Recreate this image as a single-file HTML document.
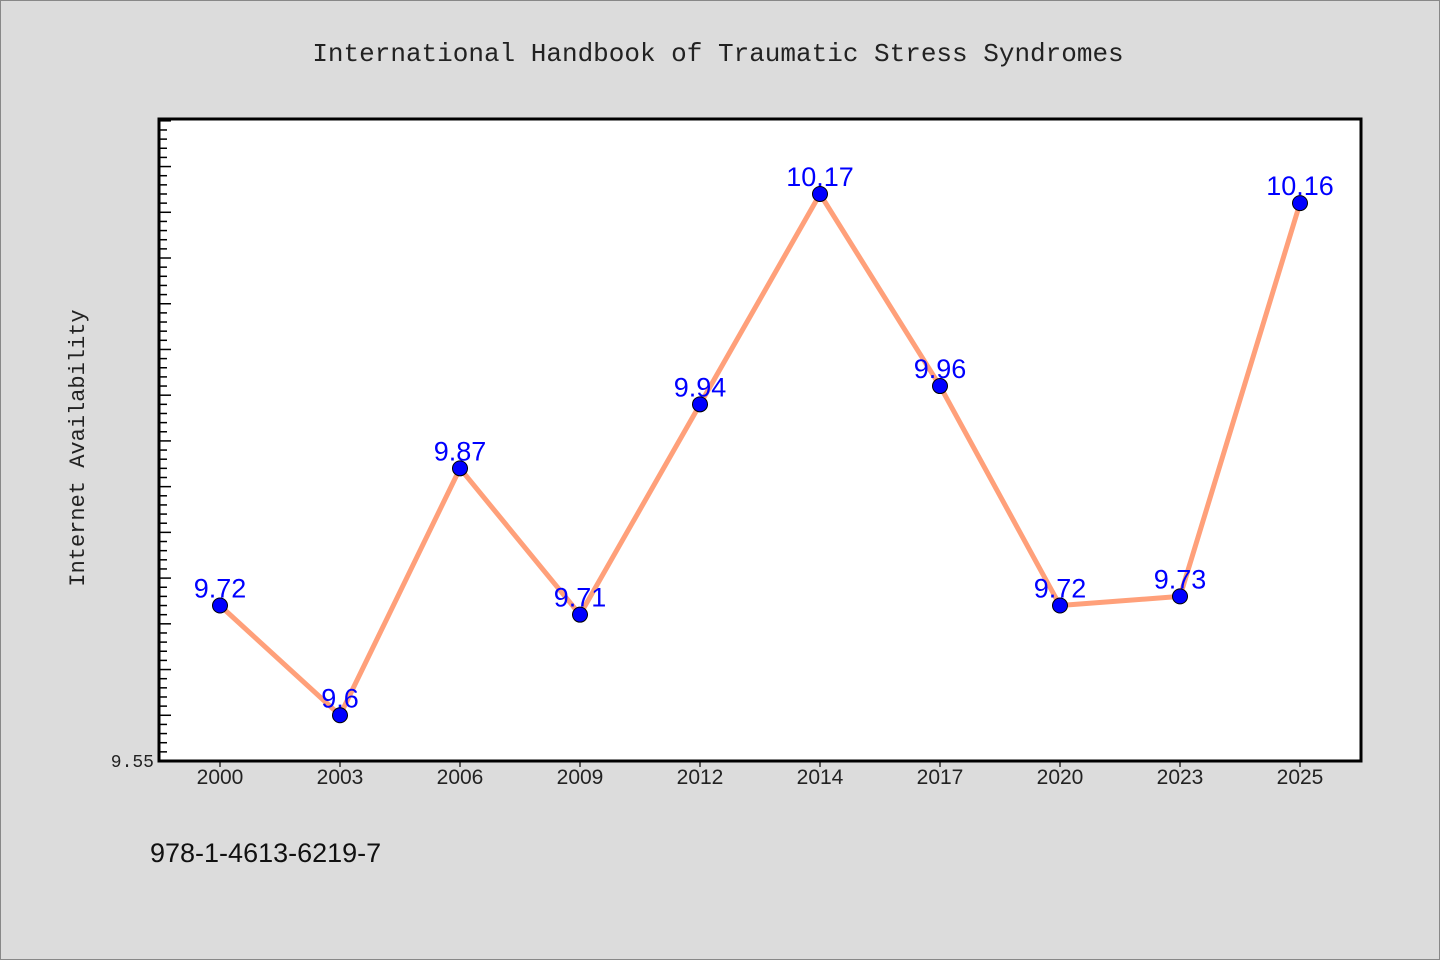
<!DOCTYPE html>
<html><head><meta charset="utf-8"><style>
body{margin:0;background:#dcdcdc;}
svg{display:block;font-family:"Liberation Mono","Noto Sans CJK SC",monospace;}
</style></head><body>
<svg width="1440" height="960" viewBox="0 0 1440 960">
<rect x="0.5" y="0.5" width="1439" height="959" fill="#dcdcdc" stroke="#888"/>
<text x="718" y="61" text-anchor="middle" font-size="26" fill="#222">International Handbook of Traumatic Stress Syndromes</text>
<rect x="159" y="119" width="1202" height="642" fill="#fff"/>
<g id="ticks"></g>
<path d="M159 119 H1361 V761 H159 Z" fill="none" stroke="#000" stroke-width="3"/>
<text x="154" y="767" text-anchor="end" font-size="18" fill="#222">9.55</text>
<text transform="translate(84,448) rotate(-90)" text-anchor="middle" font-size="22" fill="#222">Internet Availability</text>
<g id="marks"></g>
<text x="150" y="862" font-family="Liberation Sans,sans-serif" font-size="27" fill="#111">978-1-4613-6219-7</text>
</svg>
<script>
const categories=["2000","2003","2006","2009","2012","2014","2017","2020","2023","2025"];
const values=[9.72,9.6,9.87,9.71,9.94,10.17,9.96,9.72,9.73,10.16];
const yMin=9.55, yMax=10.252;
const NS="http://www.w3.org/2000/svg";
const L=159,R=1361,T=119,B=761;
function xs(i){return 220+i*(1300-220)/(categories.length-1);}
function ys(v){return B-(v-yMin)/(yMax-yMin)*(B-T);}
function mk(t,a,p){const e=document.createElementNS(NS,t);for(const k in a)e.setAttribute(k,a[k]);p.appendChild(e);return e;}
const tg=document.getElementById('ticks');
for(let k=1;;k++){const v=yMin+k*0.01;if(v>yMax)break;const y=ys(v);const major=k%5===0;
 const t=mk('line',{x1:L,x2:L+(major?12:8),y1:y,y2:y,stroke:'#000','stroke-width':1.5},tg);
 
 }
categories.forEach((c,i)=>{const x=xs(i);
 const t=mk('line',{x1:x,x2:x,y1:B,y2:B+6,stroke:'#000','stroke-width':1.2},tg);
 
 
 const l=mk('text',{x:x,y:B+23,'text-anchor':'middle','font-size':21,fill:'#222','font-family':'Liberation Sans,sans-serif'},tg);
 l.textContent=c;
 
 });
const mg=document.getElementById('marks');
const line=mk('polyline',{points:values.map((v,i)=>xs(i)+','+ys(v)).join(' '),fill:'none',stroke:'#ffa07a','stroke-width':5,'stroke-linejoin':'round'},mg);


values.forEach((v,i)=>{const x=xs(i),y=ys(v);
 const c=mk('circle',{cx:x,cy:y,r:7.5,fill:'#0000ff',stroke:'#000','stroke-width':1},mg);
 
 
 const t=mk('text',{x:x,y:y-8,'text-anchor':'middle','font-size':27,fill:'#0000ff','font-family':'Liberation Sans,sans-serif'},mg);
 t.textContent=String(v);
 
 });
</script>
</body></html>
